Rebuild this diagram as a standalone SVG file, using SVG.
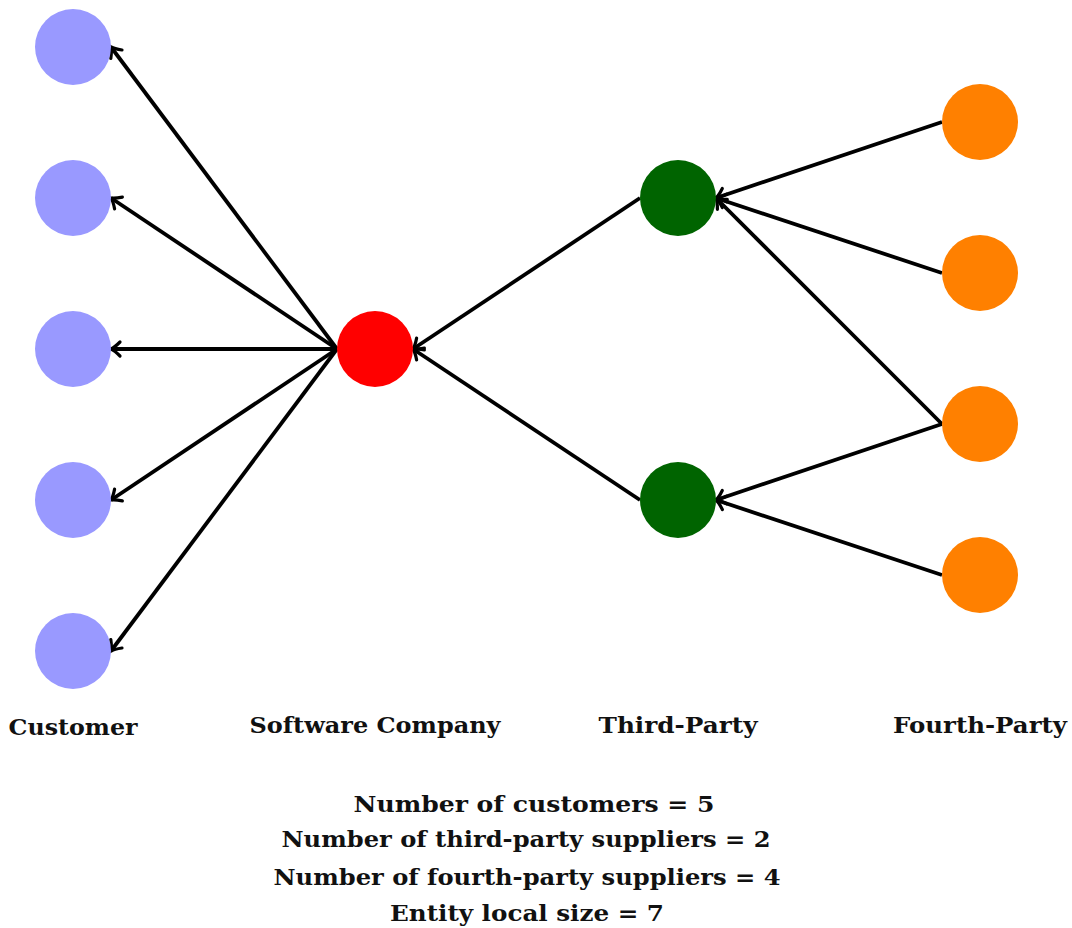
<svg xmlns="http://www.w3.org/2000/svg" width="1072" height="928" viewBox="0 0 1072 928">
<style>
.c{fill:#9999ff}.s{fill:#ff0000}.t{fill:#006400}.f{fill:#ff8000}
.e{stroke:#000;stroke-width:3.8;fill:none;marker-end:url(#ah)}
text{font-family:"DejaVu Serif","Liberation Serif",serif;font-weight:bold;font-size:22px;fill:#111;text-anchor:middle}
</style>
<defs>
<marker id="ah" markerUnits="userSpaceOnUse" markerWidth="20" markerHeight="20" refX="1" refY="0" viewBox="-10 -10 20 20" orient="auto" overflow="visible">
<path d="M-8,-7 Q-2.5,-1.5 1,0 Q-2.5,1.5 -8,7" fill="none" stroke="#000" stroke-width="3.2" stroke-linecap="round"/>
</marker>
</defs>
<g id="connectors">
<line class="e" x1="337" y1="349" x2="111" y2="47"/>
<line class="e" x1="337" y1="349" x2="111" y2="198"/>
<line class="e" x1="337" y1="349" x2="111" y2="349"/>
<line class="e" x1="337" y1="349" x2="111" y2="500"/>
<line class="e" x1="337" y1="349" x2="111" y2="651"/>
<line class="e" x1="640" y1="198" x2="413" y2="349"/>
<line class="e" x1="640" y1="500" x2="413" y2="349"/>
<line class="e" x1="942" y1="122" x2="716" y2="198"/>
<line class="e" x1="942" y1="273" x2="716" y2="198"/>
<line class="e" x1="942" y1="424" x2="716" y2="198"/>
<line class="e" x1="942" y1="424" x2="716" y2="500"/>
<line class="e" x1="942" y1="575" x2="716" y2="500"/>
</g>
<g id="customer1"><circle class="c" cx="73" cy="47" r="38"/></g>
<g id="customer2"><circle class="c" cx="73" cy="198" r="38"/></g>
<g id="customer3"><circle class="c" cx="73" cy="349" r="38"/></g>
<g id="customer4"><circle class="c" cx="73" cy="500" r="38"/></g>
<g id="customer5"><circle class="c" cx="73" cy="651" r="38"/></g>
<g id="software-company"><circle class="s" cx="375" cy="349" r="38"/></g>
<g id="third-party1"><circle class="t" cx="678" cy="198" r="38"/></g>
<g id="third-party2"><circle class="t" cx="678" cy="500" r="38"/></g>
<g id="fourth-party1"><circle class="f" cx="980" cy="122" r="38"/></g>
<g id="fourth-party2"><circle class="f" cx="980" cy="273" r="38"/></g>
<g id="fourth-party3"><circle class="f" cx="980" cy="424" r="38"/></g>
<g id="fourth-party4"><circle class="f" cx="980" cy="575" r="38"/></g>
<g id="labels">
<text x="73" y="735" textLength="129" lengthAdjust="spacingAndGlyphs">Customer</text>
<text x="375" y="733" textLength="251" lengthAdjust="spacingAndGlyphs">Software Company</text>
<text x="678" y="733" textLength="159" lengthAdjust="spacingAndGlyphs">Third-Party</text>
<text x="980" y="733" textLength="174" lengthAdjust="spacingAndGlyphs">Fourth-Party</text>
</g>
<g id="summary">
<text x="534" y="812" textLength="361" lengthAdjust="spacingAndGlyphs">Number of customers = 5</text>
<text x="526" y="847" textLength="489" lengthAdjust="spacingAndGlyphs">Number of third-party suppliers = 2</text>
<text x="527" y="885" textLength="507" lengthAdjust="spacingAndGlyphs">Number of fourth-party suppliers = 4</text>
<text x="527" y="921" textLength="274" lengthAdjust="spacingAndGlyphs">Entity local size = 7</text>
</g>
</svg>
